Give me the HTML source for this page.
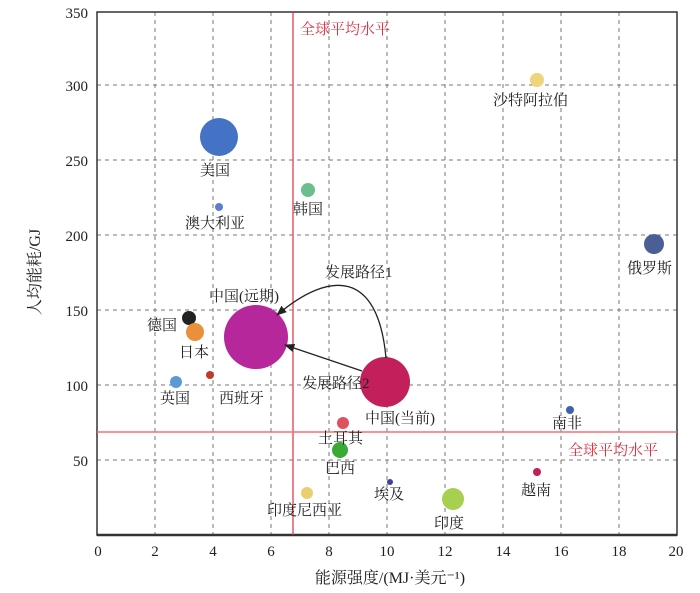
<!DOCTYPE html>
<html><head><meta charset="utf-8"><style>body{margin:0;background:#fff}svg{display:block}
text{font-family:"Liberation Serif","Noto Serif CJK SC","Noto Sans CJK SC",serif;font-size:15px;fill:#222}
.t{font-size:15px}</style></head><body>
<svg width="700" height="593" viewBox="0 0 700 593">
<defs><marker id="a" viewBox="0 0 10 10" refX="9" refY="5" markerWidth="8" markerHeight="8" orient="auto"><path d="M0,1 L10,5 L0,9 z" fill="#222"/></marker></defs>
<g stroke="#777" stroke-dasharray="4,4" stroke-width="1">
<line x1="155" y1="12" x2="155" y2="535"/><line x1="213" y1="12" x2="213" y2="535"/><line x1="271" y1="12" x2="271" y2="535"/><line x1="329" y1="12" x2="329" y2="535"/><line x1="387" y1="12" x2="387" y2="535"/><line x1="445" y1="12" x2="445" y2="535"/><line x1="503" y1="12" x2="503" y2="535"/><line x1="561" y1="12" x2="561" y2="535"/><line x1="619" y1="12" x2="619" y2="535"/>
<line x1="97" y1="85" x2="677" y2="85"/><line x1="97" y1="160" x2="677" y2="160"/><line x1="97" y1="235" x2="677" y2="235"/><line x1="97" y1="310" x2="677" y2="310"/><line x1="97" y1="385" x2="677" y2="385"/><line x1="97" y1="460" x2="677" y2="460"/>
</g>
<rect x="97" y="12" width="580" height="523" fill="none" stroke="#333" stroke-width="1.5"/>
<line x1="97" y1="535" x2="677" y2="535" stroke="#333" stroke-width="2.5"/>
<line x1="293" y1="12" x2="293" y2="535" stroke="#e03040" stroke-width="1.2"/>
<line x1="97" y1="432" x2="677" y2="432" stroke="#f07070" stroke-width="1.5"/>
<g>
<circle cx="219" cy="137" r="19" fill="#4472c4"/>
<circle cx="219" cy="207" r="4" fill="#5b7fd0"/>
<circle cx="308" cy="190" r="7" fill="#6bbf8f"/>
<circle cx="537" cy="80" r="7" fill="#eed47a"/>
<circle cx="654" cy="244" r="10" fill="#4a5f95"/>
<circle cx="189" cy="318" r="7" fill="#222"/>
<circle cx="195" cy="332" r="9" fill="#e8913a"/>
<circle cx="256" cy="337" r="32" fill="#b5279b"/>
<circle cx="385" cy="382" r="25" fill="#c21f5b"/>
<circle cx="176" cy="382" r="6" fill="#5b9bd5"/>
<circle cx="210" cy="375" r="4" fill="#c0392b"/>
<circle cx="343" cy="423" r="6" fill="#e05060"/>
<circle cx="340" cy="450" r="8" fill="#3aaa35"/>
<circle cx="570" cy="410" r="4" fill="#3f5fb0"/>
<circle cx="537" cy="472" r="4" fill="#c21f5b"/>
<circle cx="390" cy="482" r="3" fill="#4040a0"/>
<circle cx="307" cy="493" r="6" fill="#e8d070"/>
<circle cx="453" cy="499" r="11" fill="#a8d050"/>
</g>
<path d="M386,358 C378,270 330,270 277,315" fill="none" stroke="#222" stroke-width="1.3" marker-end="url(#a)"/>
<line x1="362" y1="371" x2="285" y2="345" stroke="#222" stroke-width="1.3" marker-end="url(#a)"/>
<g>
<text x="300" y="34" style="fill:#e03040" class="t">全球平均水平</text>
<text x="568" y="455" style="fill:#e03040" class="t">全球平均水平</text>
<text x="200" y="175">美国</text>
<text x="185" y="228">澳大利亚</text>
<text x="293" y="214">韩国</text>
<text x="493" y="105">沙特阿拉伯</text>
<text x="627" y="273">俄罗斯</text>
<text x="325" y="277">发展路径1</text>
<text x="209" y="301">中国(远期)</text>
<text x="147" y="330">德国</text>
<text x="179" y="357">日本</text>
<text x="302" y="388">发展路径2</text>
<text x="160" y="403">英国</text>
<text x="219" y="403">西班牙</text>
<text x="365" y="423">中国(当前)</text>
<text x="552" y="428">南非</text>
<text x="318" y="443">土耳其</text>
<text x="325" y="473">巴西</text>
<text x="521" y="495">越南</text>
<text x="374" y="499">埃及</text>
<text x="267" y="515">印度尼西亚</text>
<text x="434" y="528">印度</text>
</g>
<g text-anchor="end">
<text x="88" y="18">350</text><text x="88" y="91">300</text><text x="88" y="166">250</text><text x="88" y="241">200</text><text x="88" y="316">150</text><text x="88" y="391">100</text><text x="88" y="466">50</text>
</g>
<g text-anchor="middle">
<text x="98" y="556">0</text><text x="155" y="556">2</text><text x="213" y="556">4</text><text x="271" y="556">6</text><text x="329" y="556">8</text><text x="387" y="556">10</text><text x="445" y="556">12</text><text x="503" y="556">14</text><text x="561" y="556">16</text><text x="619" y="556">18</text><text x="676" y="556">20</text>
<text x="390" y="583" style="font-size:16px">能源强度/(MJ·美元⁻¹)</text>
<text transform="translate(40,272) rotate(-90)" style="font-size:16px">人均能耗/GJ</text>
</g>
</svg></body></html>
